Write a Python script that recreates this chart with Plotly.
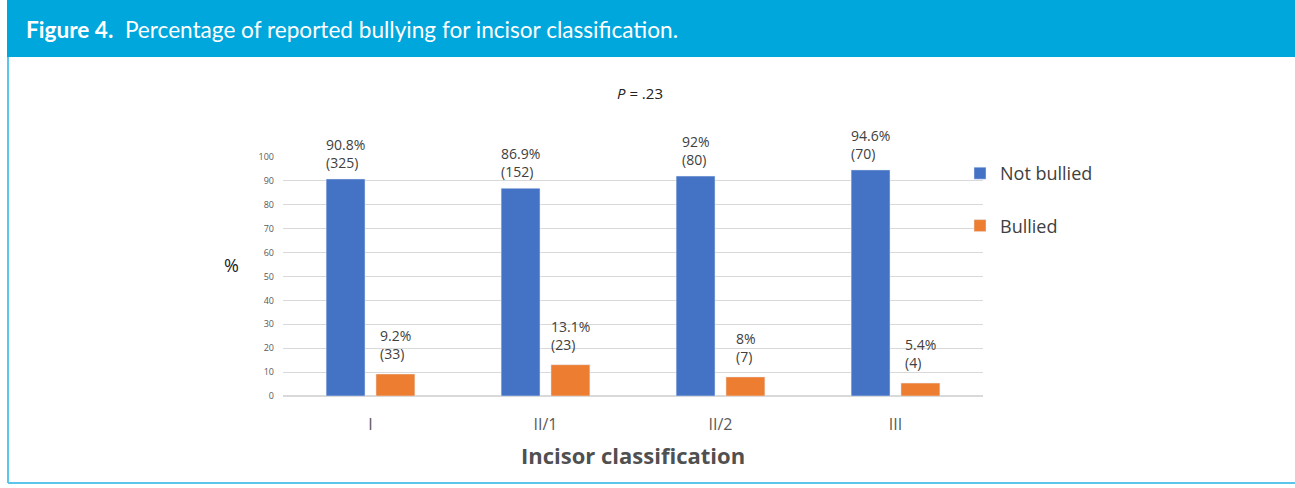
import plotly.graph_objects as go

# Data
categories = ["I", "II/1", "II/2", "III"]
not_bullied_pct = [90.8, 86.9, 92.0, 94.6]
not_bullied_n = [325, 152, 80, 70]
bullied_pct = [9.2, 13.1, 8.0, 5.4]
bullied_n = [33, 23, 7, 4]
y_ticks = list(range(0, 101, 10))

W, H = 1295, 488
L, R, T, B = 283, 983, 157, 396  # plot area in pixels


def px_x(px):
    return (px - L) / (R - L)


def px_y(py):
    return (B - py) / (B - T)


BLUE = "#4472C4"
ORANGE = "#ED7D31"
HEADER = "#00A7DC"
BORDER = "#5CC5EA"
FONT = "Open Sans, DejaVu Sans, sans-serif"

fig = go.Figure()
fig.add_bar(name="Not bullied", x=categories, y=not_bullied_pct,
            marker_color=BLUE, legendgroup="a")
fig.add_bar(name="Bullied", x=categories, y=bullied_pct,
            marker_color=ORANGE, legendgroup="b")


def fmt(v):
    return f"{v:g}%"


annotations = []
for i, c in enumerate(categories):
    annotations.append(dict(
        x=i, xref="x", y=not_bullied_pct[i], yref="y", xshift=-25,
        text=f"{fmt(not_bullied_pct[i])}<br>({not_bullied_n[i]})",
        showarrow=False, xanchor="center", yanchor="bottom", align="left",
        yshift=5, font=dict(family=FONT, size=14, color="#404040")))
    annotations.append(dict(
        x=i, xref="x", y=bullied_pct[i], yref="y", xshift=25,
        text=f"{fmt(bullied_pct[i])}<br>({bullied_n[i]})",
        showarrow=False, xanchor="center", yanchor="bottom", align="left",
        yshift=9, font=dict(family=FONT, size=14, color="#404040")))

# Header, titles
annotations += [
    dict(xref="paper", yref="paper", x=px_x(24), y=px_y(30),
         text="<b>Figure 4.</b>  Percentage of reported bullying for incisor classification.",
         showarrow=False, xanchor="left", yanchor="middle",
         font=dict(family="Lato, sans-serif", size=22.6, color="white")),
    dict(xref="paper", yref="paper", x=px_x(640), y=px_y(93),
         text="<i>P</i> = .23", showarrow=False, xanchor="center", yanchor="middle",
         font=dict(family=FONT, size=15, color="#222222")),
    dict(xref="paper", yref="paper", x=px_x(231), y=px_y(265),
         text="%", showarrow=False, xanchor="center", yanchor="middle",
         font=dict(family=FONT, size=18, color="#222222")),
    dict(xref="paper", yref="paper", x=px_x(633), y=px_y(455),
         text="<b>Incisor classification</b>", showarrow=False,
         xanchor="center", yanchor="middle",
         font=dict(family=FONT, size=22, color="#505050")),
]

shapes = [
    dict(type="rect", xref="paper", yref="paper", x0=px_x(7), x1=px_x(1300),
         y0=px_y(57), y1=px_y(-5), fillcolor=HEADER, line=dict(width=0), layer="below"),
    dict(type="line", xref="paper", yref="paper", x0=px_x(8), x1=px_x(8),
         y0=px_y(57), y1=px_y(483), line=dict(color=BORDER, width=2)),
    dict(type="line", xref="paper", yref="paper", x0=px_x(8), x1=px_x(1300),
         y0=px_y(483), y1=px_y(483), line=dict(color=BORDER, width=2)),
]

fig.update_layout(
    width=W, height=H,
    margin=dict(l=L, r=W - R, t=T, b=H - B, pad=0),
    paper_bgcolor="white", plot_bgcolor="white",
    barmode="group", bargap=0.43, bargroupgap=0.22,
    showlegend=True,
    legend=dict(x=px_x(960), y=px_y(155), xanchor="left", yanchor="top",
                font=dict(family=FONT, size=18, color="#404040"),
                tracegroupgap=26, bgcolor="rgba(0,0,0,0)"),
    annotations=annotations, shapes=shapes,
    font=dict(family=FONT),
)
fig.update_xaxes(showline=False, ticks="", tickfont=dict(family=FONT, size=16, color="#595959"),
                 ticklabelstandoff=17)
fig.update_yaxes(range=[0, 100], tickvals=y_ticks, showgrid=True, gridcolor="#D9D9D9",
                 gridwidth=1, zeroline=True, zerolinecolor="#D9D9D9", showline=False,
                 tickfont=dict(family=FONT, size=9, color="#595959"), ticks="",
                 ticklabelstandoff=8)
for tr in fig.data:
    tr.cliponaxis = False

fig.write_html("out.html")
